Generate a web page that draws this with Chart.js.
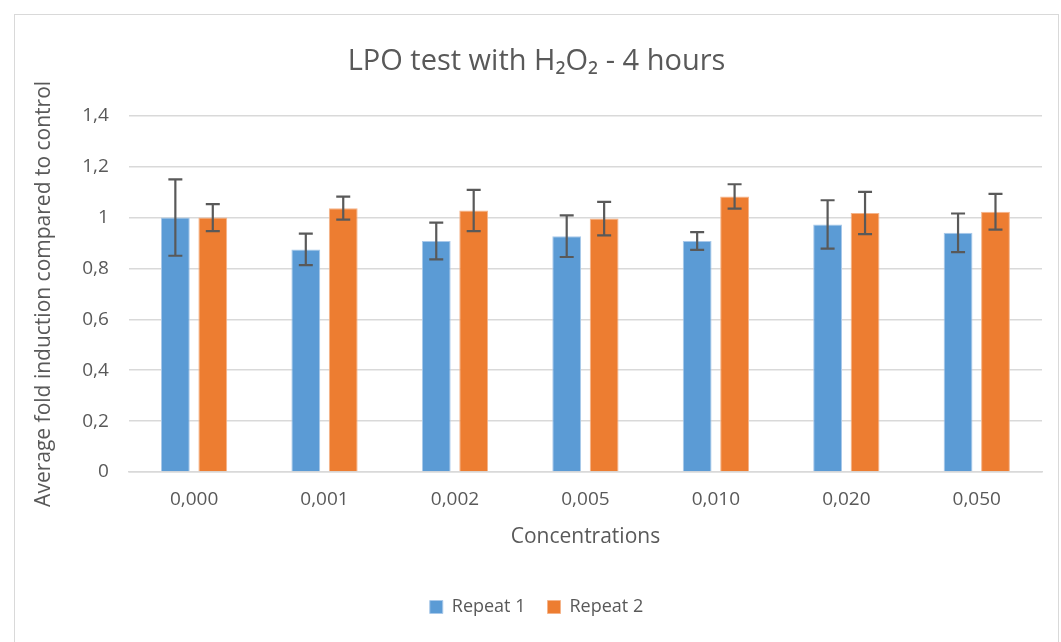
<!DOCTYPE html>
<html>
<head>
<meta charset="utf-8">
<script src="https://cdn.jsdelivr.net/npm/chart.js@4"></script>
<style>
  html, body { margin: 0; padding: 0; background: #fff; }
  #box {
    position: absolute; left: 14px; top: 14px;
    width: 1043px; height: 628px;
    border: 1px solid #d9d9d9; border-bottom: none;
  }
  #wrap { position: relative; width: 1043px; height: 628px; }
</style>
</head>
<body>
<div id="box"><div id="wrap"><canvas id="lpoChart"></canvas></div></div>
<script>
const concentrations = ['0,000', '0,001', '0,002', '0,005', '0,010', '0,020', '0,050'];
const repeat1 = [1.0, 0.875, 0.908, 0.927, 0.908, 0.973, 0.94];
const repeat1Err = [0.15, 0.062, 0.072, 0.082, 0.035, 0.095, 0.076];
const repeat2 = [1.0, 1.037, 1.028, 0.996, 1.083, 1.018, 1.023];
const repeat2Err = [0.053, 0.045, 0.081, 0.066, 0.048, 0.083, 0.07];
const yTicks = [0, 0.2, 0.4, 0.6, 0.8, 1, 1.2, 1.4];

const textGrey = '#595959';
const fontFamily = '"Open Sans", "Liberation Sans", sans-serif';

// draws the error bars using the y scale of the chart
const errorBars = {
    id: 'errorBars',
    afterDatasetsDraw(chart) {
        const ctx = chart.ctx;
        const y = chart.scales.y;
        ctx.save();
        ctx.strokeStyle = '#595959';
        ctx.lineWidth = 2.2;
        chart.data.datasets.forEach((ds, di) => {
            const meta = chart.getDatasetMeta(di);
            meta.data.forEach((bar, i) => {
                const v = ds.data[i];
                const e = ds.errors[i];
                const top = y.getPixelForValue(v + e);
                const bottom = y.getPixelForValue(v - e);
                const cap = 7;
                ctx.beginPath();
                ctx.moveTo(bar.x, top);
                ctx.lineTo(bar.x, bottom);
                ctx.moveTo(bar.x - cap, top);
                ctx.lineTo(bar.x + cap, top);
                ctx.moveTo(bar.x - cap, bottom);
                ctx.lineTo(bar.x + cap, bottom);
                ctx.stroke();
            });
        });
        ctx.restore();
    }
};

const ctx = document.getElementById('lpoChart').getContext('2d');
new Chart(ctx, {
    type: 'bar',
    data: {
        labels: concentrations,
        datasets: [
            {
                label: 'Repeat 1',
                data: repeat1,
                errors: repeat1Err,
                backgroundColor: '#5b9bd5',
                borderColor: '#a9c9ea',
                borderWidth: 1
            },
            {
                label: 'Repeat 2',
                data: repeat2,
                errors: repeat2Err,
                backgroundColor: '#ed7d31',
                borderColor: '#f5b48a',
                borderWidth: 1
            }
        ]
    },
    options: {
        responsive: true,
        maintainAspectRatio: false,
        animation: false,
        categoryPercentage: 0.574,
        barPercentage: 0.77,
        layout: {
            padding: { left: 16, right: 16, top: 12, bottom: 17 }
        },
        plugins: {
            title: {
                display: true,
                text: 'LPO test with H₂O₂ - 4 hours',
                color: textGrey,
                font: { family: fontFamily, size: 29, weight: 'normal' },
                padding: { top: 17, bottom: 37 }
            },
            legend: {
                display: true,
                position: 'bottom',
                labels: {
                    color: textGrey,
                    font: { family: fontFamily, size: 18 },
                    boxWidth: 13,
                    boxHeight: 13,
                    padding: 22
                }
            },
            tooltip: { enabled: false }
        },
        scales: {
            x: {
                grid: { display: false },
                border: { display: true, color: '#d9d9d9', width: 1.5 },
                ticks: {
                    color: textGrey,
                    font: { family: fontFamily, size: 19 },
                    padding: 8
                },
                title: {
                    display: true,
                    text: 'Concentrations',
                    color: textGrey,
                    font: { family: fontFamily, size: 21 },
                    padding: { top: 6, bottom: 26 }
                }
            },
            y: {
                min: 0,
                max: 1.4,
                afterBuildTicks(axis) {
                    axis.ticks = yTicks.map(v => ({ value: v }));
                },
                grid: { color: '#d9d9d9', lineWidth: 1.5, drawTicks: false },
                border: { display: false },
                ticks: {
                    color: textGrey,
                    font: { family: fontFamily, size: 19 },
                    padding: 20,
                    callback: v => String(v).replace('.', ',')
                },
                title: {
                    display: true,
                    text: 'Average fold induction compared to control',
                    color: textGrey,
                    font: { family: fontFamily, size: 21 },
                    padding: { top: 0, bottom: 6 }
                }
            }
        }
    },
    plugins: [errorBars]
});
</script>
</body>
</html>
